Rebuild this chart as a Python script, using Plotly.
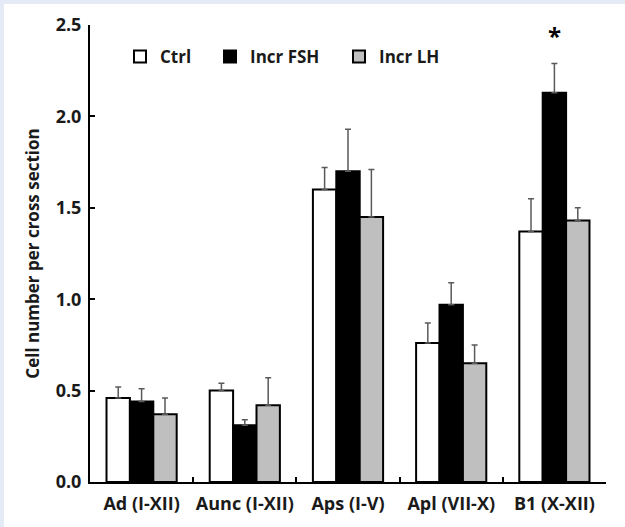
import plotly.graph_objects as go

categories = ["Ad (I-XII)", "Aunc (I-XII)", "Aps (I-V)", "Apl (VII-X)", "B1 (X-XII)"]
series_names = ["Ctrl", "Incr FSH", "Incr LH"]
ctrl = [0.46, 0.50, 1.60, 0.76, 1.37]
ctrl_err = [0.06, 0.04, 0.12, 0.11, 0.18]
fsh = [0.44, 0.31, 1.70, 0.97, 2.13]
fsh_err = [0.07, 0.03, 0.23, 0.12, 0.16]
lh = [0.37, 0.42, 1.45, 0.65, 1.43]
lh_err = [0.09, 0.15, 0.26, 0.10, 0.07]
y_ticks = [0.0, 0.5, 1.0, 1.5, 2.0, 2.5]
star_category = "B1 (X-XII)"
star_y = 2.44

colors = ["#ffffff", "#000000", "#bfbfbf"]
FONT = "'Open Sans', sans-serif"
TXT = "#1a1a1a"

# page geometry (px)
W, H = 625, 527
L, R, T, B = 90, 19, 25, 45
pw, ph = W - L - R, H - T - B
def px(x):
    return (x - L) / pw
def py(y):
    return (H - B - y) / ph

legend_ids = ["legend", "legend2", "legend3"]
legend_x = [120, 210, 339]

fig = go.Figure()
for name, vals, errs, col, lid in zip(series_names, [ctrl, fsh, lh], [ctrl_err, fsh_err, lh_err], colors, legend_ids):
    fig.add_trace(go.Bar(
        name=name, x=categories, y=vals, legend=lid,
        marker=dict(color=col, line=dict(color="#000000", width=2)),
        error_y=dict(type="data", array=errs, arrayminus=[0]*len(errs), symmetric=False,
                     color="#5a5a5a", thickness=1.5, width=3),
    ))

fig.add_annotation(x=star_category, y=star_y, text="*", showarrow=False,
                   font=dict(family=FONT, size=24, color="#000"), yanchor="middle")

fig.add_shape(type="rect", xref="paper", yref="paper", x0=px(0), x1=px(4), y0=py(H), y1=py(0),
              fillcolor="#e4ebf7", line=dict(width=0), layer="above")
fig.add_shape(type="rect", xref="paper", yref="paper", x0=px(0), x1=px(W), y0=py(4), y1=py(0),
              fillcolor="#e4ebf7", line=dict(width=0), layer="above")

leg_font = dict(family=FONT, size=17, color=TXT, weight="bold")
legends = {}
for lid, lx in zip(legend_ids, legend_x):
    legends[lid] = dict(orientation="h", x=px(lx), xanchor="left", y=py(57), yanchor="middle",
                        font=leg_font, bgcolor="rgba(0,0,0,0)", itemwidth=30)

fig.update_layout(
    width=W, height=H,
    margin=dict(l=L, r=R, t=T, b=B, pad=0, autoexpand=False),
    paper_bgcolor="#ffffff", plot_bgcolor="#ffffff",
    barmode="group", bargap=0.32, bargroupgap=0,
    font=dict(family=FONT, size=17, color=TXT, weight="bold"),
    showlegend=True,
    **legends,
    xaxis=dict(showline=True, linecolor="#000", linewidth=2, ticks="inside", ticklen=5,
               tickwidth=2, tickcolor="#000", tickson="boundaries", showgrid=False,
               tickangle=0, automargin=False, ticklabelstandoff=4,
               tickfont=dict(family=FONT, size=18, color=TXT, weight="bold")),
    yaxis=dict(range=[0, 2.5], tickvals=y_ticks, tickformat=".1f", showline=True,
               linecolor="#000", linewidth=2, ticks="inside", ticklen=5, tickwidth=2,
               tickcolor="#000", showgrid=False, zeroline=False, automargin=False,
               ticklabelstandoff=3,
               title=dict(text="Cell number per cross section", standoff=12,
                          font=dict(family=FONT, size=17, color=TXT, weight="bold")),
               tickfont=dict(family=FONT, size=18, color=TXT, weight="bold")),
)

fig.write_html("out.html", config={"displayModeBar": False},
               post_script="document.body.style.margin='0px';document.body.style.overflow='hidden';")
